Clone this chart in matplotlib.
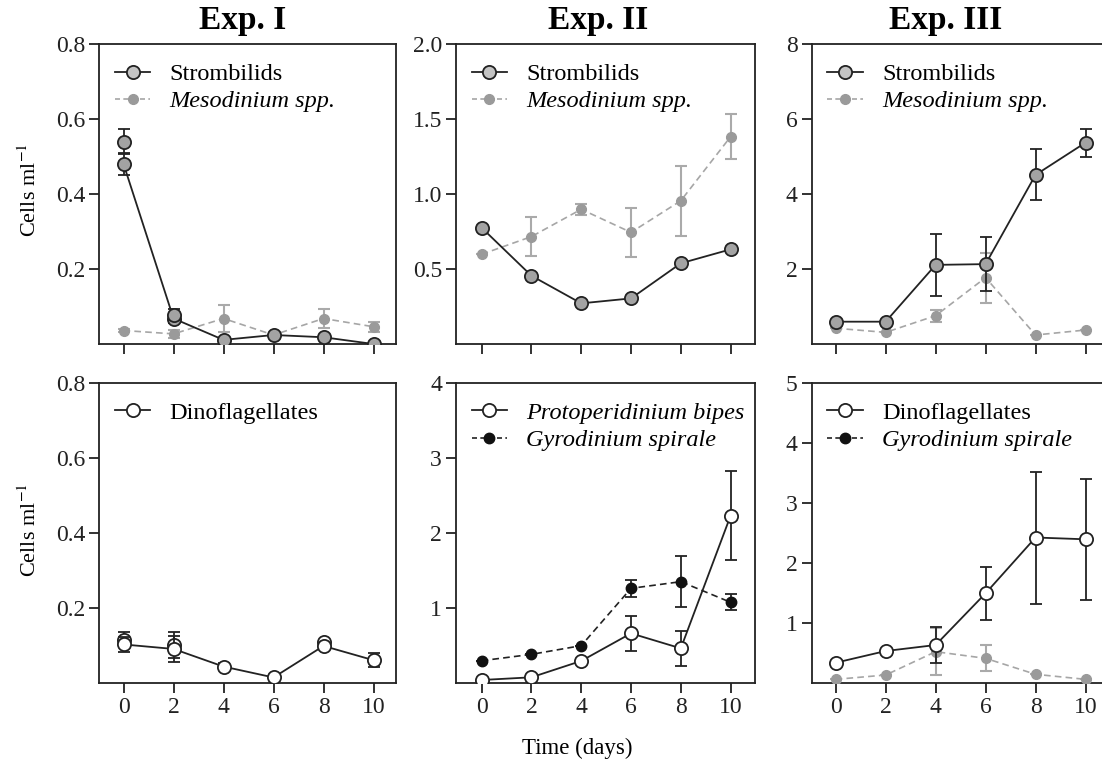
import matplotlib
matplotlib.use("Agg")
import matplotlib.pyplot as plt
from matplotlib.lines import Line2D

plt.rcParams['font.family'] = ['Liberation Serif', 'DejaVu Serif']
plt.rcParams['mathtext.fontset'] = 'stix'

# ---------------- data ----------------
days = [0, 2, 4, 6, 8, 10]

# Exp I (top)
e1_strom = [0.48, 0.068, 0.011, 0.024, 0.018, 0.0]
e1_strom_err = [0.03, 0.012, 0.0, 0.0, 0.0, 0.0]
e1_strom_rep_days = [0, 2]
e1_strom_rep = [0.54, 0.078]
e1_strom_rep_err = [0.033, 0.015]
e1_meso = [0.036, 0.027, 0.068, 0.024, 0.068, 0.046]
e1_meso_err = [0.004, 0.01, 0.036, 0.004, 0.026, 0.014]

# Exp II (top)
e2_strom = [0.775, 0.455, 0.271, 0.304, 0.538, 0.631]
e2_strom_err = [0.0, 0.0, 0.0, 0.0, 0.0, 0.0]
e2_meso = [0.598, 0.716, 0.898, 0.744, 0.955, 1.382]
e2_meso_err = [0.0, 0.13, 0.035, 0.165, 0.235, 0.15]

# Exp III (top)
e3_strom = [0.595, 0.595, 2.11, 2.13, 4.51, 5.37]
e3_strom_err = [0.0, 0.0, 0.83, 0.72, 0.68, 0.37]
e3_meso = [0.42, 0.31, 0.755, 1.77, 0.24, 0.373]
e3_meso_err = [0.0, 0.0, 0.16, 0.67, 0.0, 0.0]

# Exp I (bottom)
e1_dino = [0.102, 0.09, 0.043, 0.014, 0.098, 0.06]
e1_dino_err = [0.02, 0.035, 0.01, 0.0, 0.0, 0.018]
e1_dino_rep_days = [0, 2, 8]
e1_dino_rep = [0.114, 0.1, 0.109]
e1_dino_rep_err = [0.02, 0.034, 0.0]

# Exp II (bottom)
e2_proto = [0.036, 0.072, 0.29, 0.658, 0.458, 2.227]
e2_proto_err = [0.0, 0.0, 0.0, 0.23, 0.23, 0.59]
e2_gyro = [0.293, 0.378, 0.494, 1.258, 1.347, 1.072]
e2_gyro_err = [0.0, 0.0, 0.0, 0.115, 0.34, 0.105]

# Exp III (bottom)
e3_dino = [0.333, 0.528, 0.628, 1.49, 2.42, 2.39]
e3_dino_err = [0.0, 0.0, 0.3, 0.44, 1.1, 1.01]
e3_gyro = [0.056, 0.128, 0.517, 0.406, 0.14, 0.056]
e3_gyro_err = [0.0, 0.0, 0.39, 0.215, 0.0, 0.0]

titles = ["Exp. I", "Exp. II", "Exp. III"]
xticks = [0, 2, 4, 6, 8, 10]
top_yticks = [[0.2, 0.4, 0.6, 0.8], [0.5, 1.0, 1.5, 2.0], [2, 4, 6, 8]]
top_ylabels = [["0.2", "0.4", "0.6", "0.8"], ["0.5", "1.0", "1.5", "2.0"], ["2", "4", "6", "8"]]
top_ylim = [0.8, 2.0, 8]
bot_yticks = [[0.2, 0.4, 0.6, 0.8], [1, 2, 3, 4], [1, 2, 3, 4, 5]]
bot_ylabels = [["0.2", "0.4", "0.6", "0.8"], ["1", "2", "3", "4"], ["1", "2", "3", "4", "5"]]
bot_ylim = [0.8, 4, 5]

# ---------------- layout ----------------
W, H = 1102, 772
fig = plt.figure(figsize=(W / 100, H / 100), dpi=100)

def rect(l, r, t, b):
    return [l / W, 1 - b / H, (r - l) / W, (b - t) / H]

cols = [(99.3, 396), (456, 755), (811.7, 1108)]
xlims = [(-0.97, 10.9), (-1.03, 10.98), (-0.96, 10.9)]
rows = [(44, 344), (382.7, 682.7)]

FS = 17.5
TFS = 17
STROM_FC = '#a3a3a3'
MESO_C = '#9a9a9a'
MESO_LC = '#a6a6a6'

def style(ax, xl, ylim, yt, ytl, show_x):
    ax.set_xlim(*xl)
    ax.set_ylim(0, ylim)
    ax.set_xticks(xticks)
    ax.set_yticks(yt)
    ax.set_yticklabels(ytl)
    if show_x:
        ax.set_xticklabels([str(t) for t in xticks])
    else:
        ax.set_xticklabels([])
    ax.tick_params(direction='out', length=7, width=1.3, labelsize=TFS, pad=3, colors='#222222')
    for s in ax.spines.values():
        s.set_linewidth(1.3)
        s.set_color('#222222')

def strom(ax, y, err):
    ax.errorbar(days, y, yerr=err, color='#222222', lw=1.3, marker='o', ms=9.5,
                mfc=STROM_FC, mec='#222222', mew=1.3, capsize=4.5, elinewidth=1.3,
                capthick=1.3, zorder=5)

def meso(ax, y, err):
    ax.errorbar(days, y, yerr=err, color=MESO_LC, lw=1.2, ls=(0, (4, 2.5)), marker='o', ms=7,
                mfc=MESO_C, mec=MESO_C, capsize=4.5, elinewidth=1.5, capthick=1.5,
                ecolor='#aaaaaa', zorder=3)

def open_series(ax, y, err, z=5):
    ax.errorbar(days, y, yerr=err, color='#222222', lw=1.3, marker='o', ms=9.5,
                mfc='white', mec='#222222', mew=1.3, capsize=4.5, elinewidth=1.3,
                capthick=1.3, zorder=z)

def legend(ax, handles, labels, italics):
    w_px = ax.get_position().width * W
    leg = ax.legend(handles, labels, loc='upper left',
                    bbox_to_anchor=(15.7 / w_px, 1 - 19.0 / 300.0),
                    frameon=False, fontsize=FS, handlelength=1.45, handletextpad=0.8,
                    labelspacing=0.22, borderaxespad=0.0, borderpad=0.0)
    for t, it in zip(leg.get_texts(), italics):
        if it:
            t.set_fontstyle('italic')

h_strom = Line2D([], [], color='#222222', lw=1.3, marker='o', ms=9.5, mfc='#c4c4c4', mec='#222222', mew=1.3)
h_meso = Line2D([], [], color=MESO_LC, lw=1.2, ls=(0, (3, 2)), marker='o', ms=7, mfc=MESO_C, mec=MESO_C)
h_open = Line2D([], [], color='#222222', lw=1.3, marker='o', ms=9.5, mfc='white', mec='#222222', mew=1.3)
h_gyro = Line2D([], [], color='#222222', lw=1.2, ls=(0, (3, 2)), marker='o', ms=7.5, mfc='#111111', mec='#111111')

axes_top = []
axes_bot = []
for i in range(3):
    l, r = cols[i]
    at = fig.add_axes(rect(l, r, rows[0][0], rows[0][1]))
    ab = fig.add_axes(rect(l, r, rows[1][0], rows[1][1]))
    style(at, xlims[i], top_ylim[i], top_yticks[i], top_ylabels[i], False)
    style(ab, xlims[i], bot_ylim[i], bot_yticks[i], bot_ylabels[i], True)
    axes_top.append(at)
    axes_bot.append(ab)

# Exp I top
ax = axes_top[0]
meso(ax, e1_meso, e1_meso_err)
strom(ax, e1_strom, e1_strom_err)
ax.errorbar(e1_strom_rep_days, e1_strom_rep, yerr=e1_strom_rep_err, ls='none', marker='o', ms=9.5,
            mfc=STROM_FC, mec='#222222', mew=1.3, ecolor='#222222', capsize=4.5, elinewidth=1.3,
            capthick=1.3, zorder=6)
legend(ax, [h_strom, h_meso], ["Strombilids", "Mesodinium spp."], [False, True])

# Exp II top
ax = axes_top[1]
meso(ax, e2_meso, e2_meso_err)
strom(ax, e2_strom, e2_strom_err)
legend(ax, [h_strom, h_meso], ["Strombilids", "Mesodinium spp."], [False, True])

# Exp III top
ax = axes_top[2]
meso(ax, e3_meso, e3_meso_err)
strom(ax, e3_strom, e3_strom_err)
legend(ax, [h_strom, h_meso], ["Strombilids", "Mesodinium spp."], [False, True])

# Exp I bottom
ax = axes_bot[0]
open_series(ax, e1_dino, e1_dino_err)
ax.errorbar(e1_dino_rep_days, e1_dino_rep, yerr=e1_dino_rep_err, ls='none', marker='o', ms=9.5,
            mfc='white', mec='#222222', mew=1.3, ecolor='#222222', capsize=4.5, elinewidth=1.3,
            capthick=1.3, zorder=4)
legend(ax, [h_open], ["Dinoflagellates"], [False])

# Exp II bottom
ax = axes_bot[1]
ax.errorbar(days, e2_gyro, yerr=e2_gyro_err, color='#222222', lw=1.2, ls=(0, (4, 2.5)), marker='o',
            ms=7.5, mfc='#111111', mec='#111111', capsize=4.5, elinewidth=1.3, capthick=1.3, zorder=4)
open_series(ax, e2_proto, e2_proto_err)
legend(ax, [h_open, h_gyro], ["Protoperidinium bipes", "Gyrodinium spirale"], [True, True])

# Exp III bottom
ax = axes_bot[2]
meso(ax, e3_gyro, e3_gyro_err)
open_series(ax, e3_dino, e3_dino_err)
legend(ax, [h_open, h_gyro], ["Dinoflagellates", "Gyrodinium spirale"], [False, True])

# titles
title_x = [243, 598, 946]
for t, x in zip(titles, title_x):
    fig.text(x / W, 1 - 20 / H, t, ha='center', va='center', fontsize=24, fontweight='bold')

# axis labels
fig.text(30 / W, 1 - 190 / H, "Cells ml$^{-1}$", rotation=90, ha='center', va='center', fontsize=16)
fig.text(30 / W, 1 - 530 / H, "Cells ml$^{-1}$", rotation=90, ha='center', va='center', fontsize=16)
fig.text(577 / W, 1 - 748 / H, "Time (days)", ha='center', va='center', fontsize=16.5)

fig.savefig("out.png", dpi=100)
